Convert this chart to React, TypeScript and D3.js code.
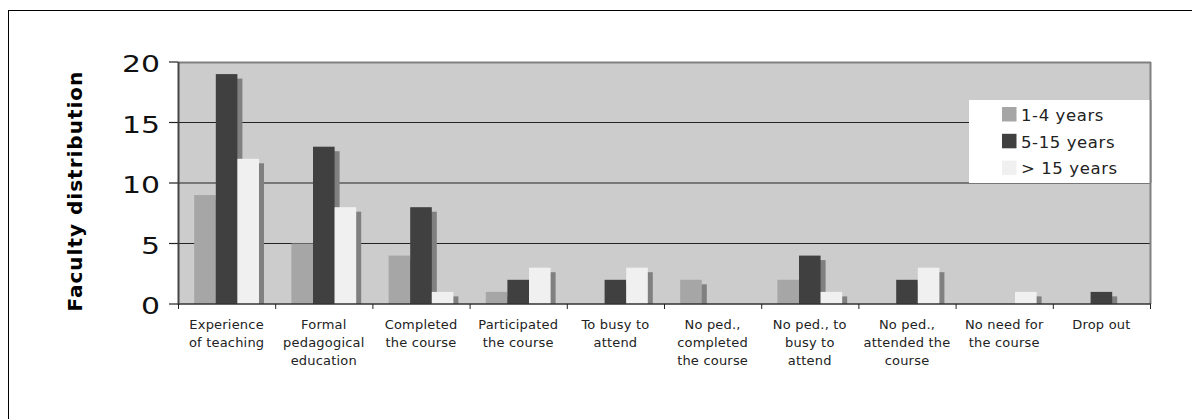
import React from "react";
import * as d3 from "d3";

const categories = [
  "Experience of teaching",
  "Formal pedagogical education",
  "Completed the course",
  "Participated the course",
  "To busy to attend",
  "No ped., completed the course",
  "No ped., to busy to attend",
  "No ped., attended the course",
  "No need for the course",
  "Drop out",
];
const categoryLines = [
  ["Experience", "of teaching"],
  ["Formal", "pedagogical", "education"],
  ["Completed", "the course"],
  ["Participated", "the course"],
  ["To busy to", "attend"],
  ["No ped.,", "completed", "the course"],
  ["No ped., to", "busy to", "attend"],
  ["No ped.,", "attended the", "course"],
  ["No need for", "the course"],
  ["Drop out"],
];
const seriesNames = ["1-4 years", "5-15 years", "> 15 years"];
const years1to4 = [9, 5, 4, 1, 0, 2, 2, 0, 0, 0];
const years5to15 = [19, 13, 8, 2, 2, 0, 4, 2, 0, 1];
const yearsOver15 = [12, 8, 1, 3, 3, 0, 1, 3, 1, 0];
const yTicks = [0, 5, 10, 15, 20];
const yTitle = "Faculty distribution";

const seriesColors = ["#a6a6a6", "#404040", "#f0f0f0"];
const FONT = "'DejaVu Sans', Verdana, sans-serif";

export default function App() {
  const W = 1192;
  const H = 419;
  const plot = { left: 178, right: 1150, top: 62, bottom: 304 };
  const y = d3.scaleLinear().domain([0, 20]).range([plot.bottom, plot.top]);
  const x0 = d3
    .scaleBand<string>()
    .domain(categories)
    .range([plot.left, plot.right])
    .paddingInner(0)
    .paddingOuter(0);
  const x1 = d3
    .scaleBand<string>()
    .domain(seriesNames)
    .range([0, x0.bandwidth()])
    .paddingInner(0)
    .paddingOuter(0.75);
  const seriesData = [years1to4, years5to15, yearsOver15];
  const shadowDx = 5;
  const shadowDy = 4.5;

  const legend = { x: 969, y: 100, w: plot.right - 969, h: 83 };

  return (
    <svg
      width={W}
      height={H}
      style={{ position: "absolute", left: 0, top: 0, display: "block", background: "#fff" }}
    >
      <rect x={0} y={0} width={W} height={H} fill="#fff" />
      {/* outer chart border */}
      <rect x={8.5} y={10.5} width={W + 20} height={H + 20} fill="none" stroke="#000" strokeWidth={1} />

      {/* plot background */}
      <rect
        x={plot.left}
        y={plot.top}
        width={plot.right - plot.left}
        height={plot.bottom - plot.top}
        fill="#cccccc"
      />
      {/* gridlines */}
      {yTicks
        .filter((t) => t > 0 && t < 20)
        .map((t) => (
          <line
            key={"g" + t}
            x1={plot.left}
            x2={plot.right}
            y1={y(t)}
            y2={y(t)}
            stroke="#222"
            strokeWidth={1.2}
          />
        ))}

      {/* bars with shadows */}
      {seriesNames.map((s, si) => (
        <g key={s}>
          {categories.map((c, ci) => {
            const v = seriesData[si][ci];
            if (v <= 0) return null;
            const bx = (x0(c) as number) + (x1(s) as number);
            const bw = x1.bandwidth();
            const top = y(v);
            return (
              <g key={c}>
                <rect
                  x={bx + shadowDx}
                  y={top + shadowDy}
                  width={bw}
                  height={plot.bottom - top - shadowDy}
                  fill="#808080"
                />
                <rect x={bx} y={top} width={bw} height={plot.bottom - top} fill={seriesColors[si]} />
              </g>
            );
          })}
        </g>
      ))}

      {/* plot borders */}
      <line x1={plot.left} x2={plot.right + 1} y1={plot.top + 0.5} y2={plot.top + 0.5} stroke="#808080" strokeWidth={2} />
      <line x1={plot.right + 0.5} x2={plot.right + 0.5} y1={plot.top} y2={plot.bottom} stroke="#808080" strokeWidth={2} />
      <line x1={plot.left} x2={plot.right + 1} y1={plot.bottom} y2={plot.bottom} stroke="#333" strokeWidth={1.5} />
      <line x1={plot.left + 0.5} x2={plot.left + 0.5} y1={plot.top} y2={plot.bottom + 1} stroke="#444" strokeWidth={2} />

      {/* y ticks and labels */}
      {yTicks.map((t) => (
        <g key={"yt" + t}>
          <line x1={169} x2={plot.left} y1={y(t)} y2={y(t)} stroke="#222" strokeWidth={1.2} />
          <text
            transform={`translate(160,${y(t) + 10}) scale(1.3,1)`}
            textAnchor="end"
            fontFamily={FONT}
            fontSize={23}
            fill="#111"
          >
            {t}
          </text>
        </g>
      ))}

      {/* x ticks */}
      {categories.map((c, i) => (
        <line
          key={"xt" + i}
          x1={(x0(c) as number) + 0.5}
          x2={(x0(c) as number) + 0.5}
          y1={plot.bottom}
          y2={plot.bottom + 5}
          stroke="#222"
          strokeWidth={1}
        />
      ))}
      <line x1={plot.right + 0.5} x2={plot.right + 0.5} y1={plot.bottom} y2={plot.bottom + 5} stroke="#222" strokeWidth={1} />

      {/* x labels */}
      {categories.map((c, i) => (
        <text
          key={"xl" + i}
          textAnchor="middle"
          fontFamily={FONT}
          fontSize={13}
          letterSpacing={0.2}
          fill="#222"
        >
          {categoryLines[i].map((ln, li) => (
            <tspan key={li} x={(x0(c) as number) + x0.bandwidth() / 2} y={329 + li * 18}>
              {ln}
            </tspan>
          ))}
        </text>
      ))}

      {/* y title */}
      <text
        transform="translate(82,311.5) rotate(-90)"
        textAnchor="start"
        fontFamily={FONT}
        fontWeight="bold"
        fontSize={20}
        letterSpacing={1}
        fill="#000"
      >
        {yTitle}
      </text>

      {/* legend */}
      <rect x={legend.x} y={legend.y} width={legend.w} height={legend.h} fill="#fff" />
      {seriesNames.map((s, i) => (
        <g key={"lg" + i}>
          <rect x={1002} y={107 + i * 26.8} width={14.5} height={14.5} fill={seriesColors[i]} />
          <text
            x={1021}
            y={121 + i * 26.7}
            fontFamily={FONT}
            fontSize={16.5}
            letterSpacing={0.6}
            fill="#222"
          >
            {s}
          </text>
        </g>
      ))}
      <line x1={plot.right + 0.5} x2={plot.right + 0.5} y1={legend.y} y2={legend.y + legend.h} stroke="#808080" strokeWidth={2} />
    </svg>
  );
}
